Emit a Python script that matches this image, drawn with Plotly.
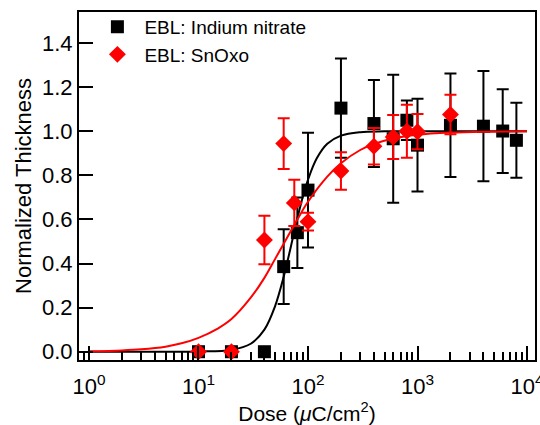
import plotly.graph_objects as go

# --- data ---
black_dose = [10, 20, 40, 60, 80, 100, 200, 400, 600, 800, 1000, 2000, 4000, 6000, 8000]
black_y = [0, 0, 0, 0.386, 0.54, 0.733, 1.105, 1.035, 0.966, 1.05, 0.937, 1.027, 1.023, 1.001, 0.959]
black_err = [0, 0, 0, 0.17, 0.16, 0.26, 0.225, 0.197, 0.29, 0.09, 0.21, 0.235, 0.25, 0.19, 0.17]

red_dose = [10, 20, 40, 60, 75, 100, 200, 400, 600, 800, 1000, 2000]
red_y = [0, 0, 0.507, 0.944, 0.675, 0.59, 0.82, 0.932, 0.974, 1.0, 0.998, 1.076]
red_err = [0, 0, 0.11, 0.115, 0.105, 0.04, 0.085, 0.083, 0.1, 0.12, 0.08, 0.09]

# fitted curves, values
fit_black_dose = [1, 5, 10, 20, 30, 40, 50, 60, 70, 80, 90, 100, 120, 150, 200, 300, 500, 1000, 10000]
fit_black_y = [0.0, 0.0, 0.001, 0.008, 0.036, 0.10, 0.206, 0.34, 0.48, 0.605, 0.705, 0.78, 0.876, 0.943, 0.98, 0.996, 0.9995, 1.0, 1.0]

fit_red_dose = [1, 2, 3, 5, 7, 10, 15, 20, 30, 40, 50, 60, 80, 100, 150, 200, 300, 400, 600, 1000, 2000, 4000, 10000]
fit_red_y = [0.002, 0.006, 0.011, 0.023, 0.038, 0.063, 0.105, 0.148, 0.245, 0.335, 0.42, 0.49, 0.6, 0.68, 0.794, 0.855, 0.915, 0.942, 0.967, 0.984, 0.994, 0.998, 0.9995]

x_tickvals = [1, 10, 100, 1000, 10000]
x_ticktext = ["10<sup>0</sup>", "10<sup>1</sup>", "10<sup>2</sup>", "10<sup>3</sup>", "10<sup>4</sup>"]

series_names = ["EBL: Indium nitrate", "EBL: SnOxo"]

FONT = "Liberation Sans, Arial, sans-serif"

fig = go.Figure()

fig.add_trace(go.Scatter(x=fit_black_dose, y=fit_black_y, mode="lines", line=dict(color="black", width=2, shape="spline"),
                         showlegend=False, hoverinfo="skip"))
fig.add_trace(go.Scatter(x=black_dose, y=black_y, mode="markers", name=series_names[0],
                         marker=dict(symbol="square", size=13, color="black"),
                         error_y=dict(type="data", array=black_err, color="black", thickness=2, width=6)))
fig.add_trace(go.Scatter(x=fit_red_dose, y=fit_red_y, mode="lines", line=dict(color="red", width=2, shape="spline"),
                         showlegend=False, hoverinfo="skip"))
fig.add_trace(go.Scatter(x=red_dose, y=red_y, mode="markers", name=series_names[1],
                         marker=dict(symbol="diamond", size=13, color="red"),
                         error_y=dict(type="data", array=red_err, color="red", thickness=2, width=6)))

axis_common = dict(showline=True, linecolor="black", linewidth=2, mirror=True, ticks="inside",
                   tickwidth=2, tickcolor="black", showgrid=False, zeroline=False,
                   ticklabeloverflow="allow", automargin=False,
                   tickfont=dict(family=FONT, size=22, color="black"))

fig.update_layout(
    width=540, height=425,
    margin=dict(l=79, r=5, t=12, b=65),
    plot_bgcolor="white", paper_bgcolor="white",
    font=dict(family=FONT, color="black"),
    xaxis=dict(type="log", range=[-0.091, 4.073], tickvals=x_tickvals, ticktext=x_ticktext, ticklen=14,
               ticklabelstandoff=6,
               minor=dict(ticks="inside", ticklen=8, tickwidth=2, tickcolor="black", dtick="D1", showgrid=False),
               title=dict(text="Dose (<i>μ</i>C/cm<sup>2</sup>)", font=dict(family=FONT, size=21), standoff=0),
               **axis_common),
    yaxis=dict(range=[-0.0376, 1.541], dtick=0.2, tick0=0, tickformat=".1f", ticklen=14,
               title=dict(text="Normalized Thickness", font=dict(family=FONT, size=22), standoff=4),
               **axis_common),
    legend=dict(x=0.025, y=1.012, xanchor="left", yanchor="top", bgcolor="rgba(0,0,0,0)",
                font=dict(family=FONT, size=19), itemwidth=44, tracegroupgap=0),
)

fig.write_html("out.html")
